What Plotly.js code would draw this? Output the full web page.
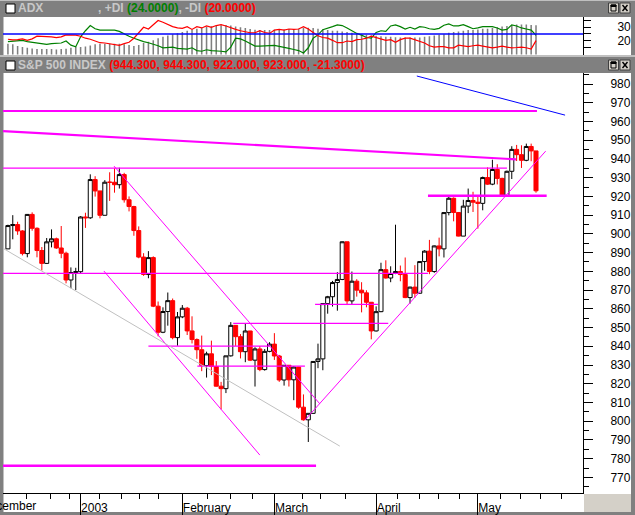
<!DOCTYPE html>
<html><head><meta charset="utf-8">
<script src="https://cdn.plot.ly/plotly-3.0.1.min.js"></script>
<style>html,body{margin:0;padding:0;background:#808080;}#chart{width:635px;height:515px;}</style>
</head><body><div id="chart"></div>
<script>
// ---------- DATA ----------
const dates = [
 '2002-12-10','2002-12-11','2002-12-12','2002-12-13','2002-12-16','2002-12-17','2002-12-18','2002-12-19','2002-12-20','2002-12-23','2002-12-24','2002-12-26','2002-12-27','2002-12-30','2002-12-31',
 '2003-01-02','2003-01-03','2003-01-06','2003-01-07','2003-01-08','2003-01-09','2003-01-10','2003-01-13','2003-01-14','2003-01-15','2003-01-16','2003-01-17','2003-01-21','2003-01-22','2003-01-23','2003-01-24','2003-01-27','2003-01-28','2003-01-29','2003-01-30','2003-01-31',
 '2003-02-03','2003-02-04','2003-02-05','2003-02-06','2003-02-07','2003-02-10','2003-02-11','2003-02-12','2003-02-13','2003-02-14','2003-02-18','2003-02-19','2003-02-20','2003-02-21','2003-02-24','2003-02-25','2003-02-26','2003-02-27','2003-02-28',
 '2003-03-03','2003-03-04','2003-03-05','2003-03-06','2003-03-07','2003-03-10','2003-03-11','2003-03-12','2003-03-13','2003-03-14','2003-03-17','2003-03-18','2003-03-19','2003-03-20','2003-03-21','2003-03-24','2003-03-25','2003-03-26','2003-03-27','2003-03-28','2003-03-31',
 '2003-04-01','2003-04-02','2003-04-03','2003-04-04','2003-04-07','2003-04-08','2003-04-09','2003-04-10','2003-04-11','2003-04-14','2003-04-15','2003-04-16','2003-04-17','2003-04-21','2003-04-22','2003-04-23','2003-04-24','2003-04-25','2003-04-28','2003-04-29','2003-04-30',
 '2003-05-01','2003-05-02','2003-05-05','2003-05-06','2003-05-07','2003-05-08','2003-05-09','2003-05-12','2003-05-13','2003-05-14','2003-05-15','2003-05-16','2003-05-19'
];
const opens = [
 892.00,904.45,904.96,901.58,889.48,910.40,902.99,891.12,884.25,895.76,897.38,892.47,889.66,875.40,879.39,
 879.82,909.03,908.59,929.01,922.93,909.93,927.58,927.57,926.26,931.66,918.22,914.60,901.78,887.62,878.36,887.34,861.40,847.48,858.54,864.36,844.61,
 855.70,860.32,848.20,843.59,838.15,829.69,835.97,829.20,818.68,817.37,834.89,851.17,845.13,837.10,848.17,832.58,838.57,827.55,837.28,
 841.15,834.81,821.99,829.85,822.10,828.89,807.48,800.73,804.19,831.90,833.27,862.79,866.45,874.02,875.67,895.79,864.23,874.74,869.95,868.52,863.50,
 848.18,858.48,880.90,876.45,878.85,879.93,878.29,865.99,871.58,868.30,885.23,890.81,879.91,893.58,892.01,911.37,919.02,911.43,898.81,914.84,917.84,
 916.92,916.30,930.08,926.55,934.39,929.62,920.27,933.41,945.11,942.30,939.28,946.67,944.30
];
const highs = [
 904.9,910.0,906.5,902.0,910.6,911.5,903.5,893.0,897.8,902.4,898.0,904.2,890.5,882.1,881.9,
 909.5,911.3,931.8,930.8,923.0,928.7,932.9,935.0,935.3,932.6,920.0,915.0,904.0,889.7,890.8,888.0,863.9,860.8,868.7,865.5,858.3,
 862.0,861.0,856.0,844.2,845.7,837.1,843.0,832.1,821.0,834.9,852.9,851.2,846.5,852.3,848.2,839.5,840.1,838.5,842.2,
 847.0,835.4,829.9,830.0,829.4,829.0,814.3,804.2,832.0,841.4,862.8,866.9,874.9,879.6,895.9,895.8,879.9,875.8,874.2,869.9,863.5,
 861.3,884.6,885.9,882.7,904.9,883.1,887.4,871.8,883.3,885.3,891.3,896.8,893.8,898.0,911.7,919.7,919.5,911.6,918.2,924.2,922.5,
 919.7,930.6,935.5,939.6,937.2,930.0,933.8,946.8,947.5,947.3,948.2,948.2,944.3
];
const lows = [
 892.0,897.1,899.5,888.5,887.5,901.7,887.5,880.5,884.0,892.8,892.0,887.0,873.6,871.0,870.0,
 879.0,903.2,908.0,919.9,908.3,909.9,917.6,922.0,924.2,916.7,912.0,899.0,887.0,877.6,876.3,860.9,845.3,847.0,851.0,843.7,840.3,
 855.0,846.0,841.5,833.3,826.7,823.3,824.6,818.5,806.3,815.0,834.5,840.2,833.5,831.5,832.1,818.5,826.7,827.0,836.8,
 832.7,821.0,819.0,818.5,811.2,806.6,800.3,788.9,804.0,828.3,827.2,857.4,861.2,859.0,875.3,862.0,862.6,866.5,858.1,860.8,843.7,
 847.9,858.2,876.1,874.2,878.5,874.7,865.7,862.8,865.9,868.3,880.3,878.5,879.2,888.0,887.4,909.9,906.7,898.7,898.8,911.1,911.7,
 902.8,912.6,926.2,926.0,926.4,919.7,919.8,929.3,938.9,935.2,938.8,938.8,922.0
];
const closes = [
 904.45,904.96,901.58,889.48,910.40,902.99,891.12,884.25,895.76,897.38,892.47,889.66,875.40,879.39,879.82,
 909.03,908.59,929.01,922.93,909.93,927.58,927.57,926.26,931.66,918.22,914.60,901.78,887.62,878.36,887.34,861.40,847.48,858.54,864.36,844.61,855.70,
 860.32,848.20,843.59,838.15,829.69,835.97,829.20,818.68,817.37,834.89,851.17,845.13,837.10,848.17,832.58,838.57,827.55,837.28,841.15,
 834.81,821.99,829.85,822.10,828.89,807.48,800.73,804.19,831.90,833.27,862.79,866.45,874.02,875.67,895.79,864.23,874.74,869.95,868.52,863.50,848.18,
 858.48,880.90,876.45,878.85,879.93,878.29,865.99,871.58,868.30,885.23,890.81,879.91,893.58,892.01,911.37,919.02,911.43,898.81,914.84,917.84,916.92,
 916.30,930.08,926.55,934.39,929.62,920.27,933.41,945.11,942.30,939.28,946.67,944.30,923.00
];
const adx = [
 17.7,17.2,15.9,15.1,14.6,14.1,13.6,13.6,13.6,13.6,
 13.3,13.6,13.8,14.6,15.1,15.1,15.6,16.4,17.2,17.7,
 17.7,17.7,17.7,17.7,17.2,16.6,15.9,16.6,18.2,19.2,
 20.2,21.8,22.8,23.8,24.8,25.6,26.4,27.4,28.4,28.9,
 29.7,30.2,30.7,31.3,31.5,31.8,31.3,30.5,30.0,29.5,
 28.7,28.2,27.9,27.9,27.9,28.2,28.4,28.4,28.7,28.7,
 28.9,29.7,29.7,29.5,28.9,28.4,27.9,27.4,27.4,26.9,
 26.4,25.9,25.4,24.8,24.3,23.8,23.6,23.3,22.8,22.8,
 22.5,22.3,22.3,22.3,22.3,22.3,22.8,23.3,23.8,24.3,
 24.8,25.9,26.4,26.9,27.4,27.9,27.9,28.4,28.9,28.9,
 29.5,30.0,30.5,31.0,31.5,32.0,32.0,32.0,31.8,31.5
];
const plusDI = [
 19.2,19.7,19.7,20.2,19.2,18.7,18.2,18.2,17.2,17.7,
 17.9,18.2,19.7,16.6,15.4,22.8,27.4,31.3,28.9,27.9,
 27.9,27.9,27.9,26.9,24.8,23.3,21.8,20.2,19.2,18.4,
 17.4,16.1,14.6,15.1,15.1,14.1,14.1,13.6,14.6,12.5,
 12.0,13.1,12.5,12.5,12.0,11.5,15.1,21.8,21.3,19.7,
 17.7,15.9,15.9,15.9,15.9,16.4,15.6,14.6,14.1,13.3,
 12.5,10.7,14.6,21.8,24.3,28.2,29.2,30.5,31.8,31.3,
 29.5,27.4,25.4,24.1,22.3,21.8,26.1,27.4,26.9,31.0,
 31.8,30.5,28.7,30.0,28.7,30.5,30.0,28.9,28.4,29.2,
 31.5,32.5,31.0,31.0,32.0,30.5,28.9,29.5,30.5,30.5,
 30.5,29.5,27.9,28.4,31.8,31.0,29.5,28.7,27.9,24.0
];
const minusDI = [
 21.0,20.5,20.7,21.3,20.2,21.3,23.3,23.3,23.0,22.8,
 22.3,22.8,24.3,24.3,24.1,23.3,21.8,21.0,19.7,18.4,
 18.2,17.7,17.2,16.4,17.7,18.7,21.8,25.9,30.0,28.7,
 32.0,35.1,33.8,32.0,30.5,29.5,29.2,30.5,28.4,30.5,
 29.5,31.0,30.0,31.3,32.0,31.0,29.5,28.4,27.4,26.4,
 25.9,25.9,27.4,26.1,25.4,27.9,28.4,27.9,28.7,28.4,
 28.7,30.5,28.7,26.1,23.6,22.3,21.8,20.2,18.4,18.4,
 19.7,19.2,20.7,21.0,21.8,23.3,22.3,21.3,20.2,20.7,
 18.7,20.7,21.8,21.8,20.7,19.7,18.2,16.1,15.1,15.4,
 15.4,14.6,14.6,16.6,15.9,15.4,16.1,16.6,15.9,15.4,
 14.6,15.1,15.9,15.1,14.6,14.8,15.1,14.6,13.6,20.0
];
const adxLevel = 25;
const adxTickVals = [15, 20, 25, 30, 35];
const adxTickText = ['', '20', '', '30', ''];
const monthStarts = ['2003-01-02','2003-02-03','2003-03-03','2003-04-01','2003-05-01'];
const monthLabels = ['2003','February','March','April','May'];
const decemberLabel = 'December';
const decemberStartIdx = -6;           // 2002-12-02, six sessions before first bar
const weekTicks = [3.9,8.8,12.8,19.0,23.5,27.2,31.1,41.2,46.0,50.5,60.8,64.6,69.7,80.4,84.9,88.9,93.2,101.7,105.8,109.9,114.3];
// drawn study lines: [x0 index, y0 price, x1 index, y1 price]
const lineX0 = [-1.02, -1.02, -1.02, -1.02, 46.5, 29.0, 39.1, 63.4, 86.7, -1.02, 61.3, 21.9, 19.8, -1.0, 84.4];
const lineY0 = [965.6, 954.9, 935.1, 878.9, 852.2, 840.1, 829.4, 862.4, 920.4, 776.2, 800.6, 936.2, 880.2, 892.3, 984.3];
const lineX1 = [109.2, 104.9, 103.0, 86.7, 78.5, 54.1, 61.3, 76.4, 111.2, 63.6, 111.0, 64.4, 52.0, 68.5, 115.0];
const lineY1 = [965.6, 939.8, 935.1, 878.9, 852.2, 840.1, 829.4, 862.4, 920.4, 776.2, 944.2, 809.2, 781.9, 786.7, 963.4];
// ---------- STYLE ----------
const lineColor = ['#ff00ff','#ff00ff','#ff00ff','#ff00ff','#ff00ff','#ff00ff','#ff00ff','#ff00ff','#ff00ff','#ff00ff','#ff00ff','#ff00ff','#ff00ff','#c0c0c0','#0000ff'];
const lineWidth = [2.2,2.2,1.2,1.2,1.2,1.4,1.4,1.2,2.6,2.4,1,1,1,1,1];

const W = 635, H = 515;
const PX = x => x / W, PY = y => 1 - y / H;
const FONT = 'Liberation Sans, Arial, sans-serif';
const idx = dates.map((d, i) => i);
const xRange = [-1.016, 118.7];
const monthIdx = monthStarts.map(d => dates.indexOf(d));
const n = closes.length;

const traces = [];
traces.push({type:'bar', x: idx, y: adx, xaxis:'x3', yaxis:'y3', width:0.32,
  marker:{color:'#808080', line:{width:0}}, hoverinfo:'skip'});
traces.push({type:'scatter', mode:'lines', x: idx, y: plusDI, xaxis:'x3', yaxis:'y3',
  line:{color:'#008000', width:1.2}, hoverinfo:'skip'});
traces.push({type:'scatter', mode:'lines', x: idx, y: minusDI, xaxis:'x3', yaxis:'y3',
  line:{color:'#ff0000', width:1.2}, hoverinfo:'skip'});
traces.push({type:'candlestick', x: idx, open: opens, high: highs, low: lows, close: closes,
  xaxis:'x', yaxis:'y', whiskerwidth:0,
  increasing:{fillcolor:'#ffffff', line:{color:'#000000', width:1}},
  decreasing:{fillcolor:'#ff0000', line:{color:'#ff0000', width:1}},
  hoverinfo:'skip'});
for (let k = 0; k < lineX0.length; k++) {
  traces.push({type:'scatter', mode:'lines', x:[lineX0[k], lineX1[k]], y:[lineY0[k], lineY1[k]],
    xaxis:'x2', yaxis:'y', line:{color: lineColor[k], width: lineWidth[k]}, hoverinfo:'skip'});
}

const last = n - 1;
const mainTitle = '<b>S&amp;P 500 INDEX <span style="color:#ff0000">(' +
  opens[last].toFixed(3) + ', ' + highs[last].toFixed(3) + ', ' + lows[last].toFixed(3) + ', ' +
  closes[last].toFixed(3) + ', ' + (closes[last] - opens[last]).toFixed(4) + ')</span></b>';
const adxTitle = '<b>, +DI <span style="color:#008000">(' + plusDI[last].toFixed(4) +
  ')</span>, -DI <span style="color:#ff0000">(' + minusDI[last].toFixed(4) + ')</span></b>';

const shapes = [];
function rect(x0,y0,x1,y1,fill,lc,lw,layer){
  shapes.push({type:'rect', xref:'paper', yref:'paper', x0:PX(x0), x1:PX(x1), y0:PY(y1), y1:PY(y0),
    fillcolor:fill, line:{color:lc||'rgba(0,0,0,0)', width:lw||0}, layer:layer||'below'});
}
function seg(x0,y0,x1,y1,c,w){
  shapes.push({type:'line', xref:'paper', yref:'paper', x0:PX(x0), x1:PX(x1), y0:PY(y0), y1:PY(y1),
    line:{color:c, width:w}, layer:'above'});
}
rect(0,0,635,1,'#c0c0c0');
rect(3.5,17,631,55,'#ffffff');
rect(0,55,635,57,'#c0c0c0');
rect(3.5,73,631,512,'#ffffff');
rect(584,494,631,512,'#d4d0c8');
[[4,13],[61,70]].forEach(([a,b]) => {
  rect(6,a,15,b,'#ffffff','#000000',1,'above');
  rect(608.5,a-1,618.5,b,'#d4d0c8','#404040',1,'above');
  rect(620,a-1,630,b,'#d4d0c8','#404040',1,'above');
  rect(611,a+1,616,b-2,'rgba(0,0,0,0)','#000000',1,'above');
  rect(611,a+1,616,a+2.5,'#000000','#000000',1,'above');
  seg(622.5,a+1,627.5,b-2,'#000000',1.4);
  seg(622.5,b-2,627.5,a+1,'#000000',1.4);
});
shapes.push({type:'line', xref:'x3 domain', yref:'y3', x0:0, x1:1, y0:adxLevel, y1:adxLevel,
  line:{color:'#0000ff', width:1.6}, layer:'above'});

const pxPerIdx = (583 - 3) / (xRange[1] - xRange[0]);
const decPx = 3 + (decemberStartIdx - xRange[0]) * pxPerIdx;

const annotations = [
  {xref:'paper', yref:'paper', x:PX(16), y:PY(8), xanchor:'left', yanchor:'middle', showarrow:false,
   text:'<b>ADX</b>', font:{family:FONT, size:12, color:'#c8c8c8'}},
  {xref:'paper', yref:'paper', x:PX(96), y:PY(8), xanchor:'left', yanchor:'middle', showarrow:false,
   text:adxTitle, font:{family:FONT, size:12, color:'#c8c8c8'}},
  {xref:'paper', yref:'paper', x:PX(16), y:PY(65), xanchor:'left', yanchor:'middle', showarrow:false,
   text:mainTitle, font:{family:FONT, size:12, color:'#c8c8c8'}},
  {xref:'paper', yref:'paper', x:PX(decPx), y:PY(505.5), xanchor:'left', yanchor:'middle', showarrow:false,
   text:decemberLabel, font:{family:FONT, size:12, color:'#000000'}}
];

const layout = {
  width:W, height:H, autosize:false, margin:{l:0,r:0,t:0,b:0,pad:0},
  paper_bgcolor:'#808080', plot_bgcolor:'rgba(0,0,0,0)', showlegend:false, hovermode:false,
  boxgap:0.12, boxgroupgap:0.05,
  font:{family:FONT, size:12, color:'#000000'},
  xaxis:{domain:[PX(3),PX(583)], range:xRange, anchor:'y', showgrid:false, zeroline:false,
    showline:true, linecolor:'#000000', linewidth:1,
    tickmode:'array', tickvals:monthIdx, ticktext:monthLabels, ticks:'', ticklabelposition:'outside right',
    ticklabelstandoff:3, tickfont:{family:FONT, size:12, color:'#000000'},
    minor:{tickmode:'array', tickvals:weekTicks, ticks:'outside', ticklen:5, tickwidth:1, tickcolor:'#000000', showgrid:false},
    rangeslider:{visible:false}, fixedrange:true},
  xaxis2:{domain:[PX(3),PX(583)], range:xRange, overlaying:'x', anchor:'y', side:'bottom',
    showgrid:false, zeroline:false, showline:false, showticklabels:false,
    tickmode:'array', tickvals:monthIdx, ticks:'outside', ticklen:21, tickwidth:1, tickcolor:'#000000',
    rangeslider:{visible:false}, fixedrange:true},
  xaxis3:{domain:[PX(3),PX(583)], range:xRange, anchor:'y3', showgrid:false, zeroline:false,
    showline:false, showticklabels:false, ticks:'', fixedrange:true},
  yaxis:{domain:[PY(493.3),PY(73)], range:[761.5,985.9], anchor:'x', side:'right',
    showgrid:false, zeroline:false, showline:true, linecolor:'#000000', linewidth:1,
    tickmode:'linear', tick0:0, dtick:10, ticks:'outside', ticklen:9, tickwidth:1, tickcolor:'#000000',
    minor:{tick0:0, dtick:5, ticks:'outside', ticklen:5, tickwidth:1, tickcolor:'#000000', showgrid:false},
    ticklabelstandoff:15, tickfont:{family:FONT, size:12, color:'#000000'}, fixedrange:true},
  yaxis3:{domain:[PY(54.5),PY(17.3)], range:[9.55,37.5], anchor:'x3', side:'right',
    showgrid:false, zeroline:false, showline:true, linecolor:'#000000', linewidth:1,
    tickmode:'array', tickvals:adxTickVals, ticktext:adxTickText, ticks:'outside', ticklen:7, tickwidth:1, tickcolor:'#000000',
    ticklabelstandoff:24, tickfont:{family:FONT, size:12, color:'#000000'}, fixedrange:true},
  shapes:shapes, annotations:annotations
};
Plotly.newPlot('chart', traces, layout, {staticPlot:true, displayModeBar:false});
</script></body></html>
